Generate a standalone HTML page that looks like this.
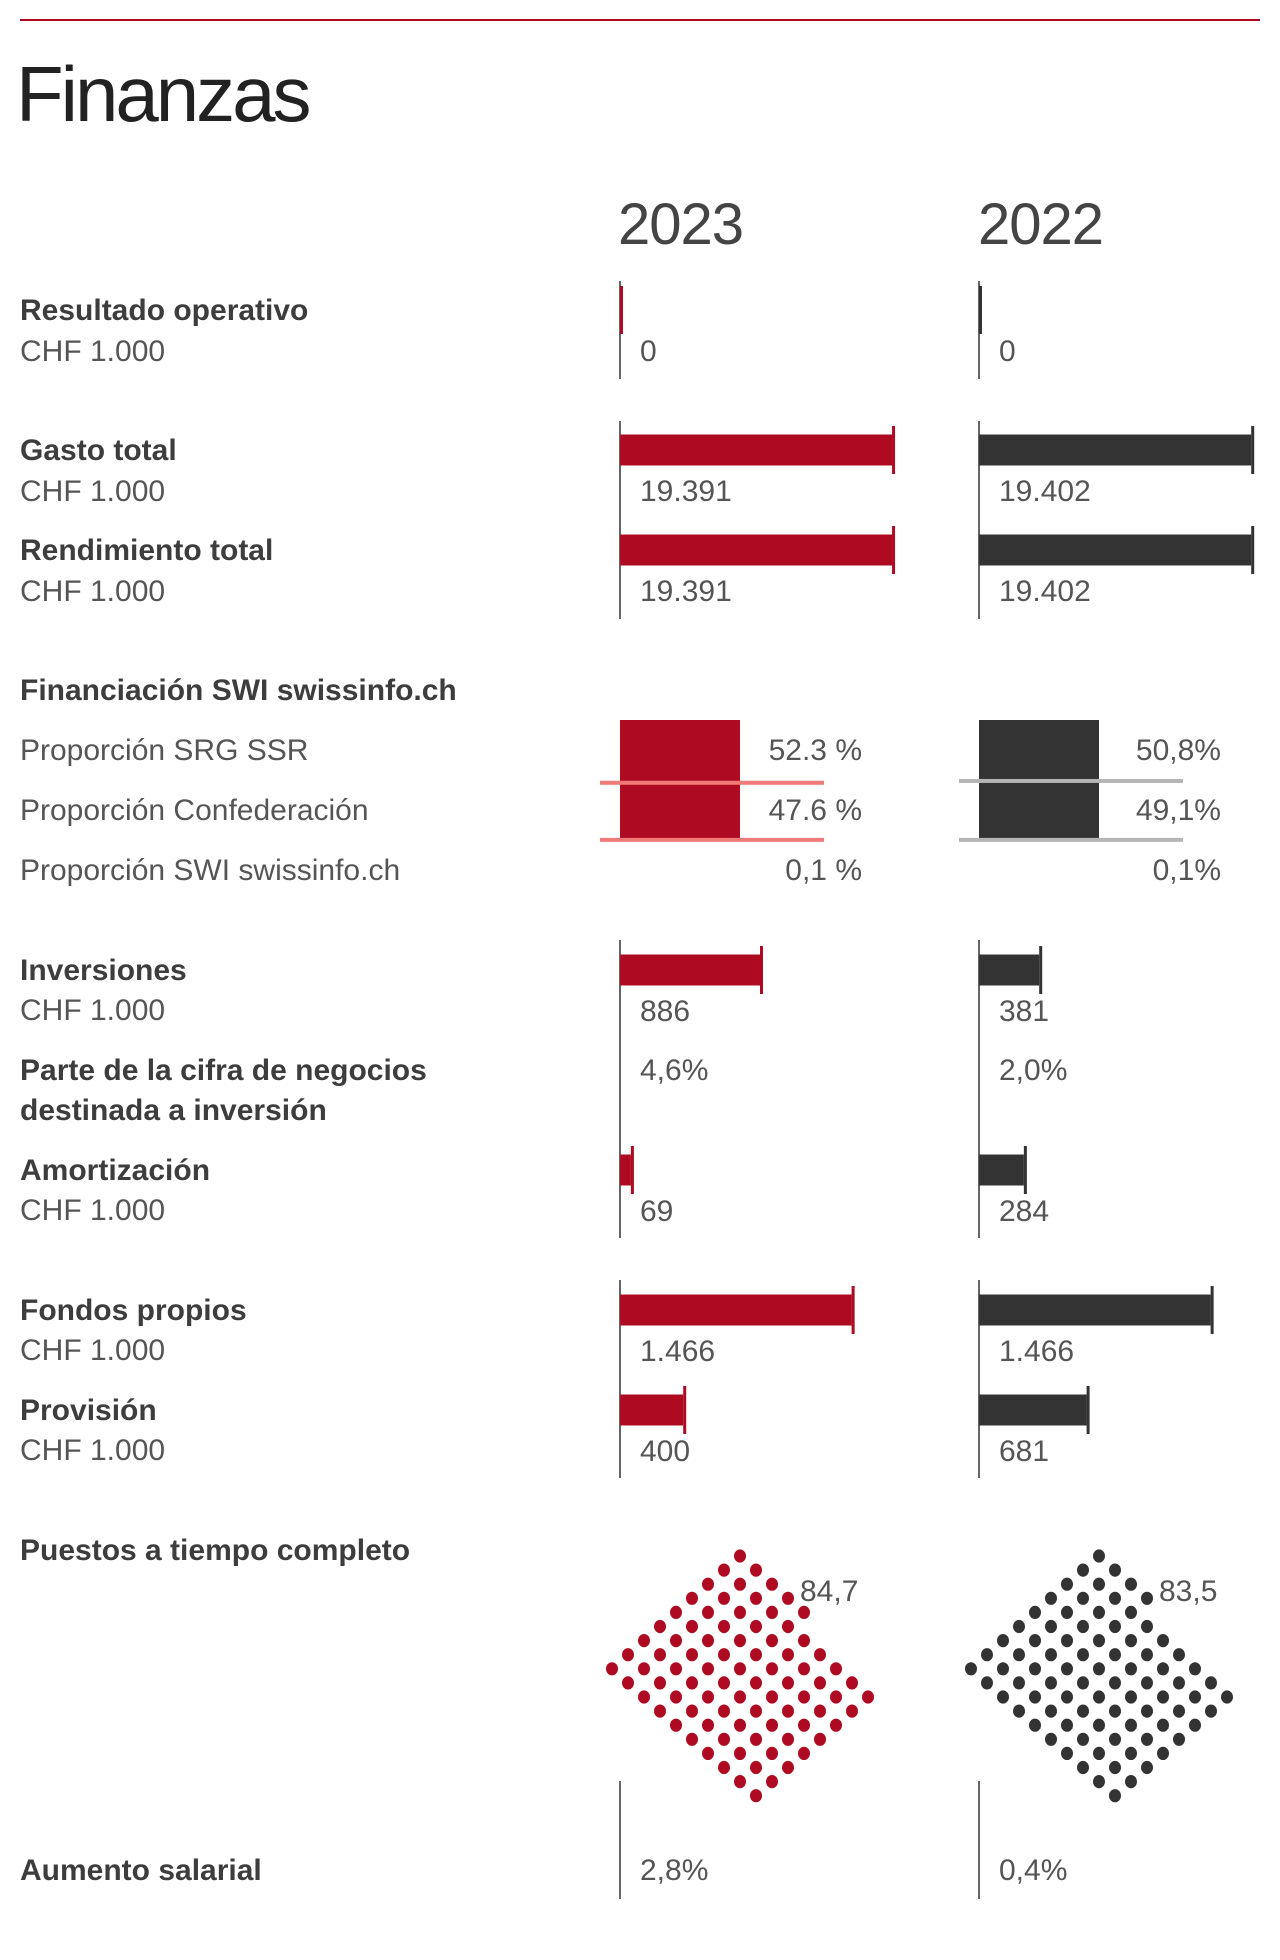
<!DOCTYPE html>
<html><head><meta charset="utf-8"><style>
html,body{margin:0;padding:0;background:#fff;}
svg{display:block;font-family:"Liberation Sans",sans-serif;}
.lb{font-size:30px;font-weight:bold;fill:#3d3d3d;}
.lt{font-size:30px;fill:#555;}
.val{font-size:30px;fill:#555;}
</style></head><body>
<svg id="chart" width="1280" height="1960" viewBox="0 0 1280 1960" xmlns="http://www.w3.org/2000/svg">
<rect x="20" y="19" width="1240" height="2" fill="#b0081f"/>
<text x="16" y="121" font-size="78" letter-spacing="-3" fill="#222">Finanzas</text>
<text x="618" y="244" font-size="58" letter-spacing="-1" fill="#444">2023</text>
<text x="978" y="244" font-size="58" letter-spacing="-1" fill="#444">2022</text>

<text class="lb" x="20" y="320">Resultado operativo</text>
<text class="lt" x="20" y="361">CHF 1.000</text>
<text class="lb" x="20" y="460">Gasto total</text>
<text class="lt" x="20" y="501">CHF 1.000</text>
<text class="lb" x="20" y="560">Rendimiento total</text>
<text class="lt" x="20" y="601">CHF 1.000</text>
<text class="lb" x="20" y="700">Financiación SWI swissinfo.ch</text>
<text class="lt" x="20" y="760">Proporción SRG SSR</text>
<text class="lt" x="20" y="820">Proporción Confederación</text>
<text class="lt" x="20" y="880">Proporción SWI swissinfo.ch</text>
<text class="lb" x="20" y="980">Inversiones</text>
<text class="lt" x="20" y="1020">CHF 1.000</text>
<text class="lb" x="20" y="1080">Parte de la cifra de negocios</text>
<text class="lb" x="20" y="1120">destinada a inversión</text>
<text class="lb" x="20" y="1180">Amortización</text>
<text class="lt" x="20" y="1220">CHF 1.000</text>
<text class="lb" x="20" y="1320">Fondos propios</text>
<text class="lt" x="20" y="1360">CHF 1.000</text>
<text class="lb" x="20" y="1420">Provisión</text>
<text class="lt" x="20" y="1460">CHF 1.000</text>
<text class="lb" x="20" y="1560">Puestos a tiempo completo</text>
<text class="lb" x="20" y="1880">Aumento salarial</text>
<g id="marks"></g>
</svg>
<script>
const years = ["2023", "2022"];
const barRows = ["resultado", "gasto", "rendimiento", "inversiones", "amortizacion", "fondos", "provision"];
const values2023 = [0, 19391, 19391, 886, 69, 1466, 400];
const values2022 = [0, 19402, 19402, 381, 284, 1466, 681];
const valueLabels2023 = ["0", "19.391", "19.391", "886", "69", "1.466", "400"];
const valueLabels2022 = ["0", "19.402", "19.402", "381", "284", "1.466", "681"];
const shareNames = ["srg", "confederacion", "swi"];
const shares2023 = [52.3, 47.6, 0.1];
const shares2022 = [50.8, 49.1, 0.1];
const shareLabels2023 = ["52.3 %", "47.6 %", "0,1 %"];
const shareLabels2022 = ["50,8%", "49,1%", "0,1%"];
const inversionShare = ["4,6%", "2,0%"];
const fte = [84.7, 83.5];
const fteLabels = ["84,7", "83,5"];
const salaryLabels = ["2,8%", "0,4%"];

const NS = "http://www.w3.org/2000/svg";
const g = document.getElementById("marks");
const axisX = [620, 979];
const colors = ["#ae0a22", "#333333"];
const lineColors = ["#ef7a77", "#b5b5b5"];
const rowY = [310, 450, 550, 970, 1170, 1310, 1410];
const rowScale = [0.01403, 0.01403, 0.01403, 0.158, 0.158, 0.158, 0.158];
function xScale(v, i) { return v * rowScale[i]; }
function mk(tag, attrs) { const e = document.createElementNS(NS, tag); for (const k in attrs) e.setAttribute(k, attrs[k]); g.appendChild(e); return e; }

const axisSpans = [[281, 379], [421, 619], [940, 1238], [1280, 1478], [1781, 1899]];
[0, 1].forEach(c => {
  axisSpans.forEach((s, j) => {
    const l = mk("rect", {x: axisX[c] - 1, y: s[0], width: 2, height: s[1] - s[0], fill: "#666"});
    
    
  });
  const vals = c === 0 ? values2023 : values2022;
  const labs = c === 0 ? valueLabels2023 : valueLabels2022;
  vals.forEach((v, i) => {
    const w = xScale(v, i);
    const cy = rowY[i];
    const b = mk("rect", {x: axisX[c], y: cy - 15.5, width: w, height: 31, fill: colors[c]});
    
    
    const cap = mk("rect", {x: axisX[c] + w, y: cy - 24, width: 3, height: 48, fill: colors[c]});
    
    
    const t = mk("text", {x: axisX[c] + 20, y: cy + 51, class: "val"});
    t.textContent = labs[i];
    
    
  });
  // shares
  const sh = c === 0 ? shares2023 : shares2022;
  const shl = c === 0 ? shareLabels2023 : shareLabels2022;
  const boxTop = 720, boxH = 120;
  const box = mk("rect", {x: axisX[c], y: boxTop, width: 120, height: boxH, fill: colors[c]});
  
  
  let cum = 0;
  sh.forEach((v, i) => {
    cum += v;
    if (i < 2) {
      const ln = mk("rect", {x: axisX[c] - 20, y: boxTop + cum / 100 * boxH - 2, width: 224, height: 4, fill: lineColors[c]});
      
      
    }
    const t = mk("text", {x: axisX[c] + 242, y: 760 + i * 60, class: "val", "text-anchor": "end"});
    t.textContent = shl[i];
    
    
  });
  const ip = mk("text", {x: axisX[c] + 20, y: 1080, class: "val"});
  ip.textContent = inversionShare[c];
  
  
  // FTE diamond
  const n = Math.round(fte[c]);
  const remove = 90 - n;
  const topX = axisX[c] + 120, topY = 1556;
  for (let a = 0; a < 10; a++) {
    for (let bb = 0; bb < 9; bb++) {
      if (bb === 0 && a >= 10 - remove) continue;
      const d = mk("ellipse", {cx: topX + (a - bb) * 16, cy: topY + (a + bb) * 14.1, rx: 6, ry: 6.6, fill: colors[c]});
      
      
    }
  }
  const ft = mk("text", {x: axisX[c] + 180, y: 1601, class: "val"});
  ft.textContent = fteLabels[c];
  
  
  const st = mk("text", {x: axisX[c] + 20, y: 1880, class: "val"});
  st.textContent = salaryLabels[c];
  
  
});
</script>
</body></html>
